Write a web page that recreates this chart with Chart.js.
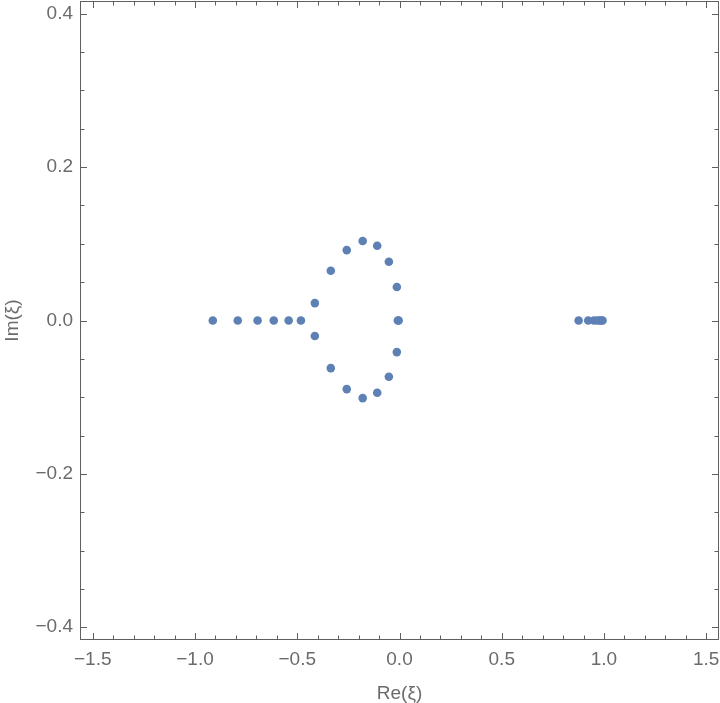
<!DOCTYPE html>
<html>
<head>
<meta charset="utf-8">
<title>Re / Im</title>
<script src="https://cdn.jsdelivr.net/npm/chart.js@4.4.1/dist/chart.umd.min.js"></script>
<style>
    body { margin: 0; background: #fff; }
    #grafico { display: block; }
</style>
</head>
<body>
<canvas id="grafico" width="720" height="703"></canvas>
<script>
    /*      DATOS: raices en el plano complejo     */

    var reXi = [
        -0.913, -0.791, -0.694, -0.615, -0.542, -0.482,
        -0.414, -0.336, -0.258, -0.180, -0.109, -0.052, -0.013, -0.008, -0.004,
        -0.013, -0.052, -0.109, -0.180, -0.258, -0.336, -0.414,
        0.876, 0.923, 0.951, 0.968, 0.979, 0.987, 0.993
    ];
    var imXi = [
        0, 0, 0, 0, 0, 0,
        0.0227, 0.0648, 0.0918, 0.1036, 0.0974, 0.0766, 0.0436, 0, 0,
        -0.0412, -0.0734, -0.0943, -0.1012, -0.0895, -0.0621, -0.0203,
        0, 0, 0, 0, 0, 0, 0
    ];

    var xTicks = [-1.5, -1.0, -0.5, 0.0, 0.5, 1.0, 1.5];
    var yTicks = [-0.4, -0.2, 0.0, 0.2, 0.4];
    var xMinorStep = 0.1;
    var yMinorStep = 0.05;

    var puntos = reXi.map(function(x, i) {
        return { x: x, y: imXi[i] };
    });

    function etiqueta(v) {
        return Number(v).toFixed(1).replace('-', '\u2212');
    }

    // sin el margen extra que Chart.js deja para las etiquetas de los extremos
    function sinPadding(scale) {
        scale.paddingTop = 0;
        scale.paddingBottom = 0;
        scale.paddingLeft = 0;
        scale.paddingRight = 0;
    }

    // marco con ticks hacia dentro en los cuatro lados
    var marcoPlugin = {
        id: 'marco',
        afterDatasetsDraw: function(chart) {
            var ctx = chart.ctx;
            var a = chart.chartArea;
            var sx = chart.scales.x;
            var sy = chart.scales.y;
            ctx.save();
            ctx.strokeStyle = '#606060';
            ctx.lineWidth = 1;
            ctx.strokeRect(a.left + 0.5, a.top + 0.5, a.right - a.left - 1, a.bottom - a.top - 1);

            ctx.beginPath();
            var i, v, px, len;
            for (i = -15; i <= 15; i++) {
                v = i * xMinorStep;
                px = Math.round(sx.getPixelForValue(v)) + 0.5;
                len = (i % 5 === 0) ? 7 : 4.5;
                ctx.moveTo(px, a.bottom);
                ctx.lineTo(px, a.bottom - len);
                ctx.moveTo(px, a.top);
                ctx.lineTo(px, a.top + len);
            }
            for (i = -8; i <= 8; i++) {
                v = i * yMinorStep;
                px = Math.round(sy.getPixelForValue(v)) + 0.5;
                len = (i % 4 === 0) ? 7 : 4.5;
                ctx.moveTo(a.left, px);
                ctx.lineTo(a.left + len, px);
                ctx.moveTo(a.right, px);
                ctx.lineTo(a.right - len, px);
            }
            ctx.stroke();
            ctx.restore();
        }
    };

    var fuente = { family: '"Liberation Sans", Arial, sans-serif', size: 19 };

    var ctx = document.getElementById('grafico').getContext('2d');
    var myChart = new Chart(ctx, {
        type: 'scatter',
        data: {
            datasets: [{
                label: 'raices',
                data: puntos,
                backgroundColor: 'rgb(94, 129, 181)',
                borderWidth: 0,
                pointRadius: 4.3,
                pointHoverRadius: 4.3
            }]
        },
        options: {
            responsive: false,
            animation: false,
            devicePixelRatio: 1,
            layout: {
                autoPadding: false,
                padding: { top: 1, right: 1, left: 0, bottom: 0 }
            },
            plugins: {
                legend: { display: false },
                tooltip: { enabled: false }
            },
            scales: {
                x: {
                    type: 'linear',
                    min: -1.5625,
                    max: 1.5625,
                    grid: { display: false, drawTicks: false },
                    border: { display: false },
                    afterBuildTicks: function(scale) {
                        scale.ticks = xTicks.map(function(v) { return { value: v }; });
                    },
                    afterFit: function(scale) {
                        scale.height = 63;
                        sinPadding(scale);
                    },
                    ticks: {
                        color: '#6b6b6b',
                        font: fuente,
                        padding: 8,
                        maxRotation: 0,
                        autoSkip: false,
                        callback: etiqueta
                    },
                    title: {
                        display: true,
                        text: 'Re(ξ)',
                        color: '#6b6b6b',
                        font: { family: fuente.family, size: 19, lineHeight: 1 },
                        padding: 0
                    }
                },
                y: {
                    type: 'linear',
                    min: -0.4167,
                    max: 0.4167,
                    grid: { display: false, drawTicks: false },
                    border: { display: false },
                    afterBuildTicks: function(scale) {
                        scale.ticks = yTicks.map(function(v) { return { value: v }; });
                    },
                    afterFit: function(scale) {
                        scale.width = 80;
                        sinPadding(scale);
                    },
                    ticks: {
                        color: '#6b6b6b',
                        font: fuente,
                        padding: 7,
                        autoSkip: false,
                        callback: etiqueta
                    },
                    title: {
                        display: true,
                        text: 'Im(ξ)',
                        color: '#6b6b6b',
                        font: { family: fuente.family, size: 19, lineHeight: 1 },
                        padding: { top: 3, bottom: 0 }
                    }
                }
            }
        },
        plugins: [marcoPlugin]
    });
</script>
</body>
</html>
